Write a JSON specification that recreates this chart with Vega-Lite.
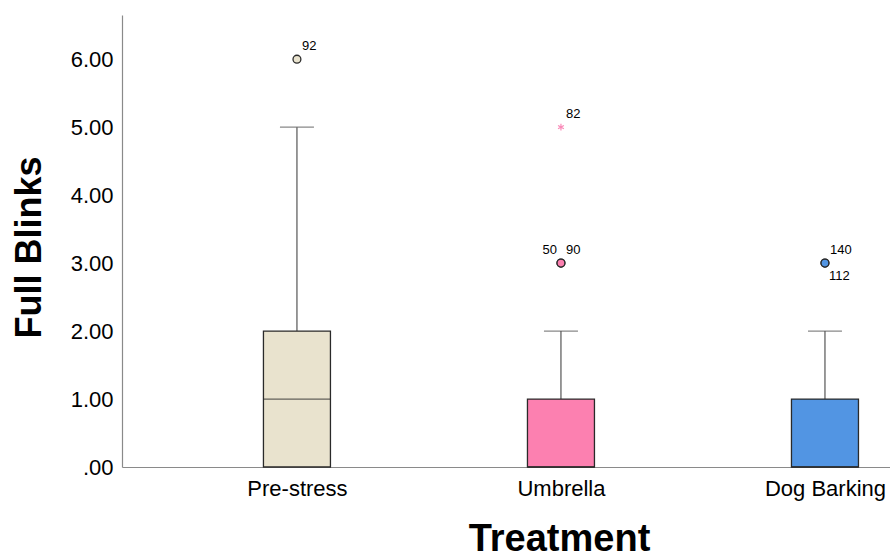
{
  "$schema": "https://vega.github.io/schema/vega-lite/v6.json",
  "width": 768,
  "height": 452,
  "autosize": {"type": "none"},
  "padding": {"left": 122, "top": 15, "right": 0, "bottom": 92},
  "background": "white",
  "config": {
    "view": {"stroke": null},
    "font": "Liberation Sans",
    "axis": {"grid": false, "ticks": false, "domainColor": "#8a8a8a", "domainWidth": 1.2, "labelColor": "#000", "titleColor": "#000", "labelFont": "Liberation Sans", "titleFont": "Liberation Sans"}
  },
  "datasets": {
    "boxes": [
      {"Treatment": "Pre-stress", "lower": 0, "q1": 0, "median": 1, "q3": 2, "upper": 5},
      {"Treatment": "Umbrella", "lower": 0, "q1": 0, "median": 0, "q3": 1, "upper": 2},
      {"Treatment": "Dog Barking", "lower": 0, "q1": 0, "median": 0, "q3": 1, "upper": 2}
    ],
    "outliers": [
      {"Treatment": "Pre-stress", "value": 6, "case": "92", "kind": "outlier"},
      {"Treatment": "Umbrella", "value": 5, "case": "82", "kind": "extreme"},
      {"Treatment": "Umbrella", "value": 3, "case": "50", "kind": "outlier"},
      {"Treatment": "Umbrella", "value": 3, "case": "90", "kind": "outlier"},
      {"Treatment": "Dog Barking", "value": 3, "case": "140", "kind": "outlier"},
      {"Treatment": "Dog Barking", "value": 3, "case": "112", "kind": "outlier"}
    ]
  },
  "encoding": {
    "x": {
      "field": "Treatment", "type": "nominal",
      "sort": ["Pre-stress", "Umbrella", "Dog Barking"],
      "scale": {"type": "point", "padding": 0.4545, "align": 0.729},
      "axis": {"title": "Treatment", "labelAngle": 0, "labelFontSize": 22, "labelPadding": 11, "titleFontSize": 38, "titleFontWeight": "bold", "titlePadding": 21, "titleX": 437}
    }
  },
  "layer": [
    {
      "data": {"name": "boxes"},
      "mark": {"type": "rule", "color": "#555555", "strokeWidth": 1.2},
      "encoding": {
        "y": {"field": "lower", "type": "quantitative", "scale": {"domain": [0, 6.65], "nice": false, "zero": true},
          "axis": {"title": "Full Blinks", "values": [0, 1, 2, 3, 4, 5, 6], "labelExpr": "datum.value == 0 ? '.00' : format(datum.value, '.2f')", "labelFontSize": 22, "labelPadding": 9, "titleFontSize": 36, "titleFontWeight": "bold", "titlePadding": 22, "titleY": 232}},
        "y2": {"field": "upper"}
      }
    },
    {
      "data": {"name": "boxes"},
      "mark": {"type": "tick", "color": "#555555", "size": 34, "thickness": 1.2},
      "encoding": {"y": {"field": "upper", "type": "quantitative"}}
    },
    {
      "data": {"name": "boxes"},
      "mark": {"type": "bar", "size": 67, "stroke": "#2a2a2a", "strokeWidth": 1.3},
      "encoding": {
        "y": {"field": "q1", "type": "quantitative"},
        "y2": {"field": "q3"},
        "fill": {"field": "Treatment", "type": "nominal", "scale": {"domain": ["Pre-stress", "Umbrella", "Dog Barking"], "range": ["#E9E3CE", "#FC80B0", "#5295E3"]}, "legend": null}
      }
    },
    {
      "data": {"name": "boxes"},
      "mark": {"type": "tick", "color": "#2a2a2a", "size": 67, "thickness": 1.3},
      "encoding": {"y": {"field": "median", "type": "quantitative"}}
    },
    {
      "data": {"name": "outliers"},
      "transform": [{"filter": "datum.kind == 'outlier'"}],
      "mark": {"type": "point", "filled": true, "size": 62, "stroke": "#2a2a2a", "strokeWidth": 1.3, "opacity": 1},
      "encoding": {
        "y": {"field": "value", "type": "quantitative"},
        "fill": {"field": "Treatment", "type": "nominal", "legend": null}
      }
    },
    {
      "data": {"name": "outliers"},
      "transform": [{"filter": "datum.kind == 'extreme'"}],
      "mark": {"type": "point", "filled": false, "size": 45, "shape": "M0,-1L0,1M-0.87,-0.5L0.87,0.5M-0.87,0.5L0.87,-0.5", "color": "#F98AB8", "strokeWidth": 1.2, "opacity": 1},
      "encoding": {"y": {"field": "value", "type": "quantitative"}}
    },
    {
      "data": {"name": "outliers"},
      "transform": [{"filter": "indexof(['92','82','90','140'], datum.case) >= 0"}],
      "mark": {"type": "text", "align": "left", "baseline": "middle", "dx": 5, "dy": -13, "fontSize": 13, "color": "#000"},
      "encoding": {"y": {"field": "value", "type": "quantitative"}, "text": {"field": "case"}}
    },
    {
      "data": {"name": "outliers"},
      "transform": [{"filter": "datum.case == '50'"}],
      "mark": {"type": "text", "align": "right", "baseline": "middle", "dx": -4, "dy": -13, "fontSize": 13, "color": "#000"},
      "encoding": {"y": {"field": "value", "type": "quantitative"}, "text": {"field": "case"}}
    },
    {
      "data": {"name": "outliers"},
      "transform": [{"filter": "datum.case == '112'"}],
      "mark": {"type": "text", "align": "left", "baseline": "middle", "dx": 4, "dy": 13, "fontSize": 13, "color": "#000"},
      "encoding": {"y": {"field": "value", "type": "quantitative"}, "text": {"field": "case"}}
    }
  ]
}
